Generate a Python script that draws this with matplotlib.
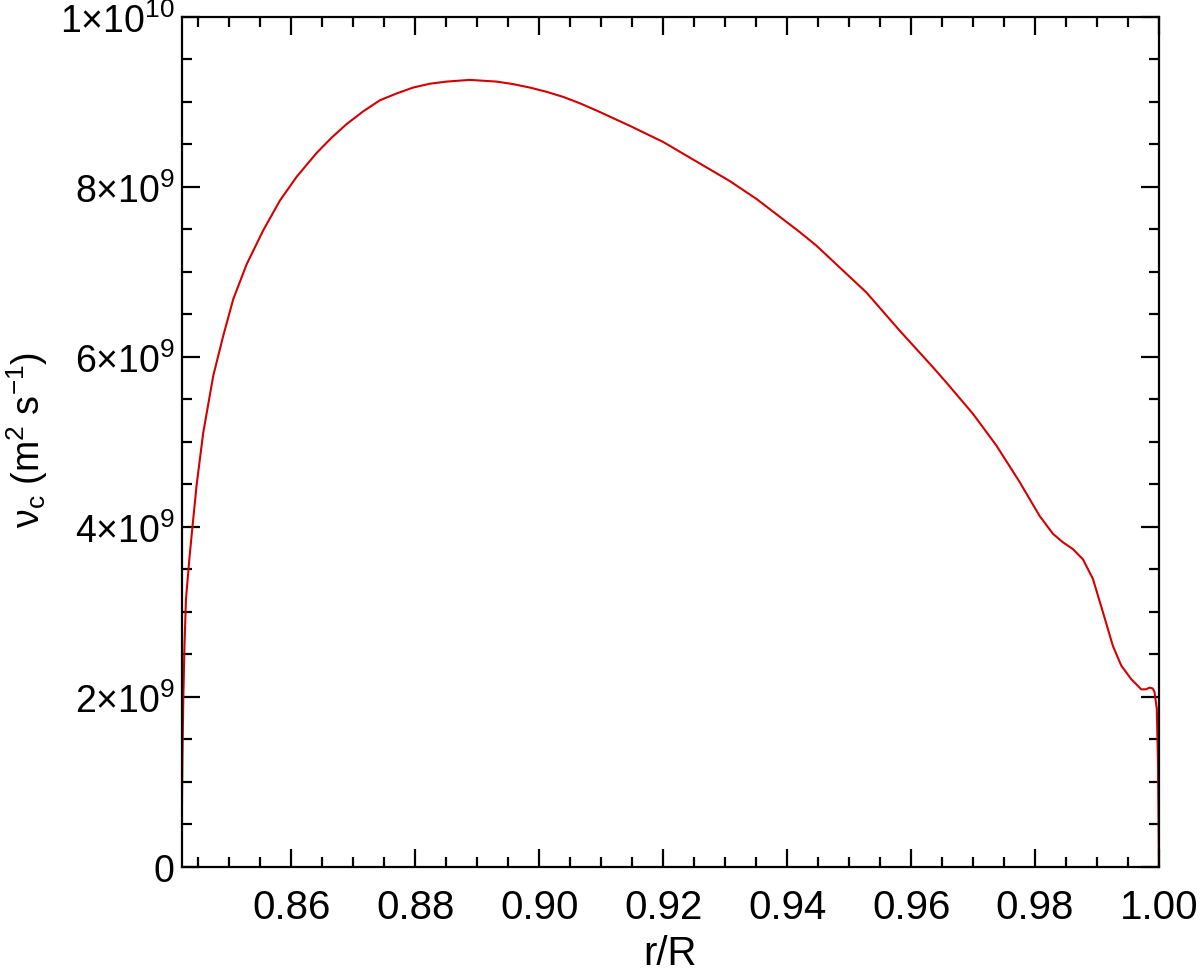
import matplotlib
matplotlib.use("Agg")
import matplotlib.pyplot as plt
from matplotlib.ticker import MultipleLocator, FixedLocator, FixedFormatter

plt.rcParams['font.family'] = ['Liberation Sans', 'DejaVu Sans']
plt.rcParams['mathtext.fontset'] = 'custom'
plt.rcParams['mathtext.rm'] = 'Liberation Sans'
plt.rcParams['mathtext.it'] = 'Liberation Sans:italic'
plt.rcParams['mathtext.bf'] = 'Liberation Sans:bold'

# r/R values and convective viscosity (m^2 s^-1)
r_over_R = [0.8423, 0.84232, 0.84238, 0.84246, 0.84256, 0.84275, 0.84299, 0.84356,
            0.84401, 0.84472, 0.84578, 0.84740, 0.84901, 0.85062, 0.85278, 0.85546,
            0.85815, 0.86085, 0.86407, 0.86649, 0.86891, 0.87160, 0.87428, 0.87697,
            0.87966, 0.88235, 0.88504, 0.88880, 0.89311, 0.89580, 0.89848, 0.90117,
            0.90386, 0.90655, 0.90924, 0.91461, 0.91999, 0.92536, 0.93074,
            0.93504, 0.94203, 0.94472, 0.95278, 0.95816, 0.96352, 0.96569, 0.97000,
            0.97375, 0.97751, 0.98074, 0.98289, 0.98450, 0.98611, 0.98773, 0.98934,
            0.99095, 0.99257, 0.99391, 0.99552, 0.99714, 0.99790, 0.99848, 0.99900,
            0.99928, 0.99965, 0.99985, 1.0]
nu_c = [0.0, 0.5e9, 1.0e9, 1.5e9, 1.98e9, 2.6e9, 3.15e9, 3.64e9,
        3.98e9, 4.50e9, 5.11e9, 5.78e9, 6.25e9, 6.68e9, 7.09e9, 7.49e9,
        7.84e9, 8.12e9, 8.40e9, 8.58e9, 8.74e9, 8.89e9, 9.02e9, 9.10e9,
        9.17e9, 9.215e9, 9.24e9, 9.26e9, 9.24e9, 9.21e9, 9.17e9, 9.12e9,
        9.06e9, 8.985e9, 8.90e9, 8.72e9, 8.53e9, 8.30e9, 8.07e9,
        7.86e9, 7.47e9, 7.31e9, 6.76e9, 6.31e9, 5.88e9, 5.70e9, 5.33e9,
        4.96e9, 4.53e9, 4.13e9, 3.92e9, 3.82e9, 3.74e9, 3.62e9, 3.39e9,
        3.00e9, 2.60e9, 2.37e9, 2.21e9, 2.09e9, 2.09e9, 2.11e9, 2.10e9,
        2.06e9, 1.86e9, 1.2e9, 0.0]

x_ticks = [0.86, 0.88, 0.90, 0.92, 0.94, 0.96, 0.98, 1.00]
x_ticklabels = ['0.86', '0.88', '0.90', '0.92', '0.94', '0.96', '0.98', '1.00']
y_ticks = [0, 2e9, 4e9, 6e9, 8e9, 1e10]
y_ticklabels = ['0', '2×10$^{9}$', '4×10$^{9}$', '6×10$^{9}$', '8×10$^{9}$', '1×10$^{10}$']

fig = plt.figure(figsize=(12, 9.78), dpi=100)
ax = fig.add_axes([0.1514, 0.1125, 0.8144, 0.8691])

ax.plot(r_over_R, nu_c, color='#d40000', lw=1.5, solid_joinstyle='round')

ax.set_xlim(0.8423, 1.0)
ax.set_ylim(0, 1e10)

ax.xaxis.set_major_locator(FixedLocator(x_ticks))
ax.xaxis.set_major_formatter(FixedFormatter(x_ticklabels))
ax.xaxis.set_minor_locator(MultipleLocator(0.005))
ax.yaxis.set_major_locator(FixedLocator(y_ticks))
ax.yaxis.set_major_formatter(FixedFormatter(y_ticklabels))
ax.yaxis.set_minor_locator(MultipleLocator(5e8))

ax.tick_params(which='both', direction='in', top=True, right=True, width=1.6, color='black')
ax.tick_params(which='major', length=13)
ax.tick_params(which='minor', length=7)
ax.tick_params(axis='x', which='major', labelsize=29, pad=15)
ax.tick_params(axis='y', which='major', labelsize=27, pad=5)
for s in ax.spines.values():
    s.set_linewidth(1.6)

ax.set_xlabel('r/R', fontsize=29, labelpad=6)
ax.set_ylabel('ν$_\\mathrm{c}$ (m$^{2}$ s$^{-1}$)', fontsize=27)
ax.yaxis.set_label_coords(-0.135, 0.5035)

fig.savefig('out.png', dpi=100)
